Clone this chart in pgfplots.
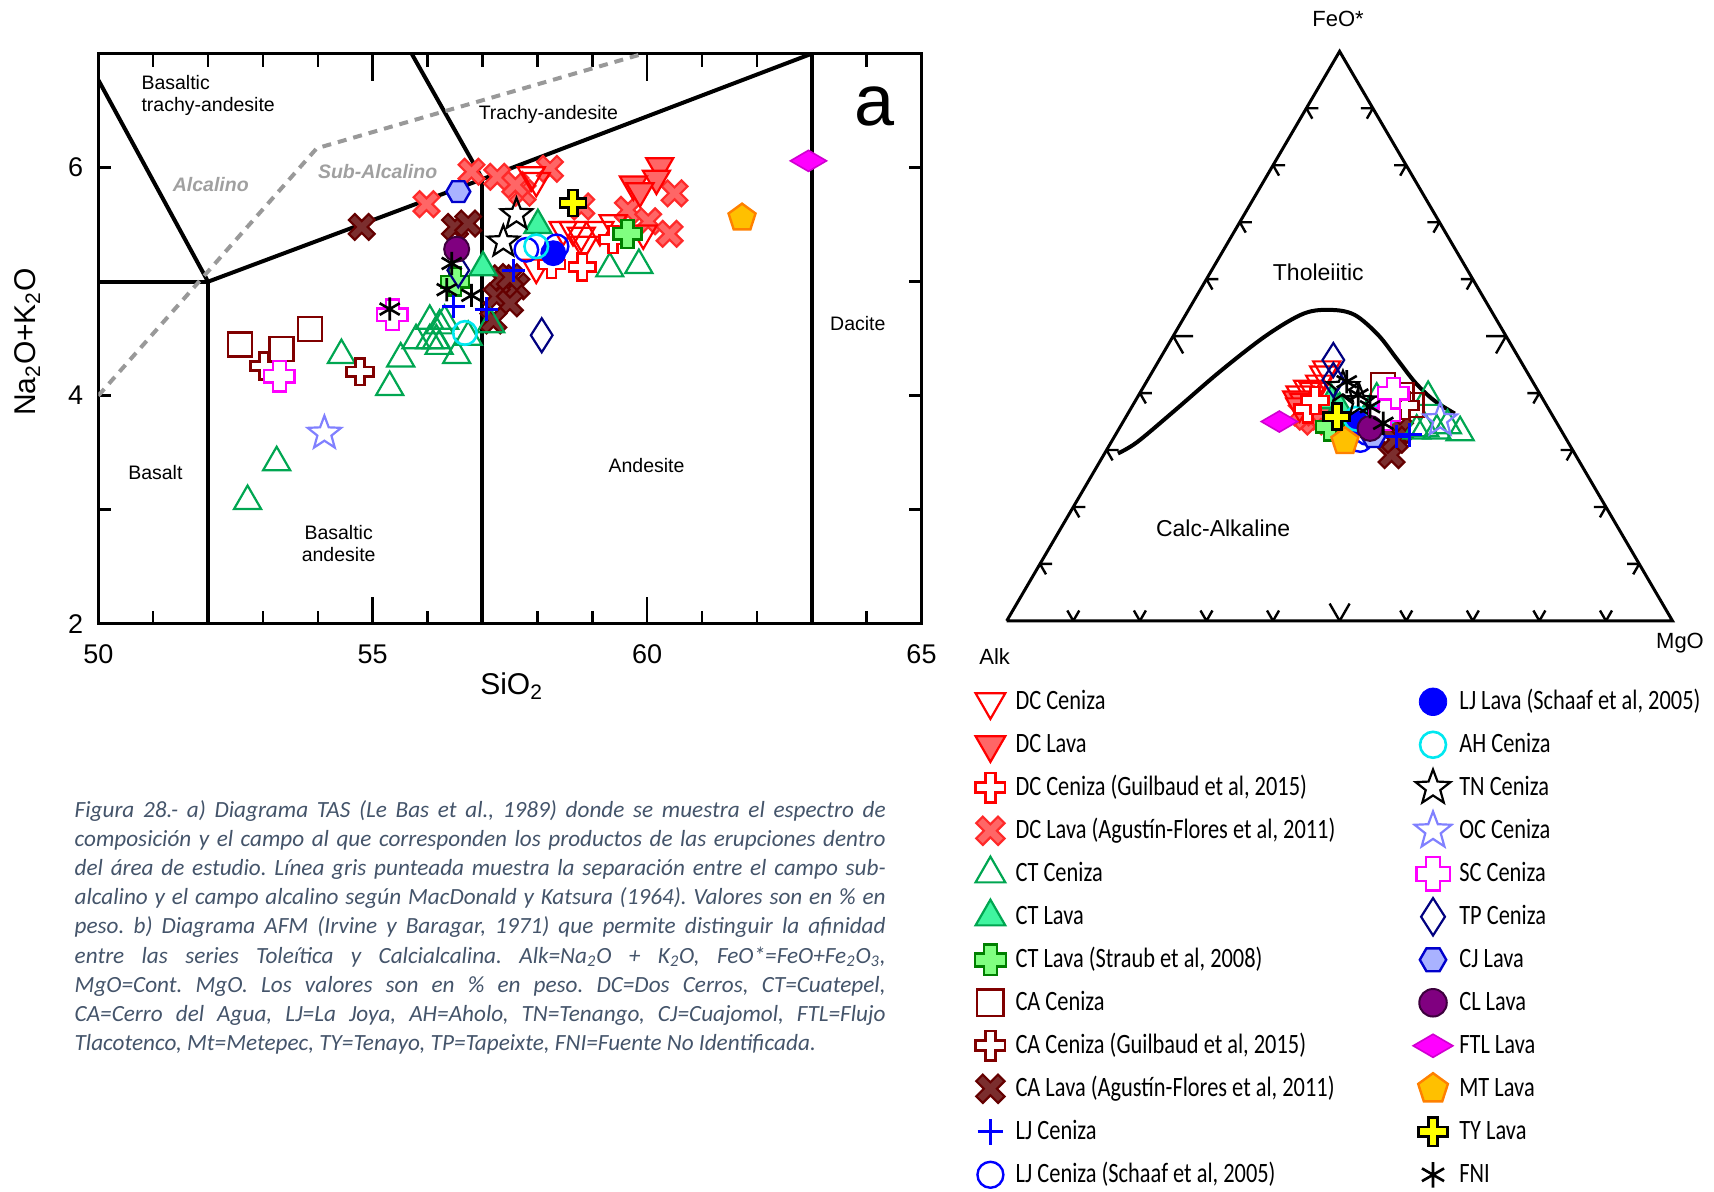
\documentclass[border=0pt]{standalone}
\usepackage{fontspec}
\setmainfont{Liberation Sans}
\newfontfamily\legfont[FakeStretch=0.8]{Carlito}
\newfontfamily\capfont{Carlito}
\usepackage{pgfplots}
\pgfplotsset{compat=1.18}
\usetikzlibrary{plotmarks}

\definecolor{dcred}{HTML}{FF0000}
\definecolor{dcfill}{HTML}{FF6666}
\definecolor{dcxdraw}{HTML}{FF2A2A}
\definecolor{ctgreen}{HTML}{00A651}
\definecolor{ctfill}{HTML}{40F5A0}
\definecolor{stfill}{HTML}{80FF80}
\definecolor{stdraw}{HTML}{008000}
\definecolor{cared}{HTML}{800000}
\definecolor{cafill}{HTML}{7B2E2E}
\definecolor{cadraw}{HTML}{650000}
\definecolor{ljblue}{HTML}{0000FF}
\definecolor{ahcyan}{HTML}{00E8F0}
\definecolor{oclilac}{HTML}{8080FF}
\definecolor{scmag}{HTML}{FF00FF}
\definecolor{tpnavy}{HTML}{000080}
\definecolor{cjfill}{HTML}{A9B2FF}
\definecolor{cjdraw}{HTML}{0000CC}
\definecolor{clfill}{HTML}{800080}
\definecolor{cldraw}{HTML}{3D003D}
\definecolor{ftlfill}{HTML}{FF00FF}
\definecolor{ftldraw}{HTML}{D000D0}
\definecolor{mtfill}{HTML}{FFC000}
\definecolor{mtdraw}{HTML}{FF8000}
\definecolor{tyfill}{HTML}{FFFF00}
\definecolor{captxt}{HTML}{44546A}
\definecolor{dashgray}{HTML}{999999}
\definecolor{labgray}{HTML}{A0A0A0}

\newcommand\crosspath[1]{%
 \pgfpathmoveto{\pgfqpoint{#1\pgfplotmarksize}{\pgfplotmarksize}}%
 \pgfpathlineto{\pgfqpoint{#1\pgfplotmarksize}{#1\pgfplotmarksize}}%
 \pgfpathlineto{\pgfqpoint{\pgfplotmarksize}{#1\pgfplotmarksize}}%
 \pgfpathlineto{\pgfqpoint{\pgfplotmarksize}{-#1\pgfplotmarksize}}%
 \pgfpathlineto{\pgfqpoint{#1\pgfplotmarksize}{-#1\pgfplotmarksize}}%
 \pgfpathlineto{\pgfqpoint{#1\pgfplotmarksize}{-\pgfplotmarksize}}%
 \pgfpathlineto{\pgfqpoint{-#1\pgfplotmarksize}{-\pgfplotmarksize}}%
 \pgfpathlineto{\pgfqpoint{-#1\pgfplotmarksize}{-#1\pgfplotmarksize}}%
 \pgfpathlineto{\pgfqpoint{-\pgfplotmarksize}{-#1\pgfplotmarksize}}%
 \pgfpathlineto{\pgfqpoint{-\pgfplotmarksize}{#1\pgfplotmarksize}}%
 \pgfpathlineto{\pgfqpoint{-#1\pgfplotmarksize}{#1\pgfplotmarksize}}%
 \pgfpathlineto{\pgfqpoint{-#1\pgfplotmarksize}{\pgfplotmarksize}}%
 \pgfpathclose}
\pgfdeclareplotmark{gcross}{\crosspath{0.34}\pgfusepathqfillstroke}
\pgfdeclareplotmark{xcross}{\pgftransformrotate{45}\crosspath{0.30}\pgfusepathqfillstroke}
\pgfdeclareplotmark{clover}{\pgfsetcornersarced{\pgfqpoint{0.35\pgfplotmarksize}{0.35\pgfplotmarksize}}\crosspath{0.42}\pgfusepathqfillstroke\pgfsetcornersarced{\pgfpointorigin}}
\pgfdeclareplotmark{ostar}{%
 \pgfpathmoveto{\pgfqpoint{0pt}{\pgfplotmarksize}}%
 \pgfpathlineto{\pgfqpoint{-0.247\pgfplotmarksize}{0.340\pgfplotmarksize}}%
 \pgfpathlineto{\pgfqpoint{-0.951\pgfplotmarksize}{0.309\pgfplotmarksize}}%
 \pgfpathlineto{\pgfqpoint{-0.399\pgfplotmarksize}{-0.130\pgfplotmarksize}}%
 \pgfpathlineto{\pgfqpoint{-0.588\pgfplotmarksize}{-0.809\pgfplotmarksize}}%
 \pgfpathlineto{\pgfqpoint{0pt}{-0.42\pgfplotmarksize}}%
 \pgfpathlineto{\pgfqpoint{0.588\pgfplotmarksize}{-0.809\pgfplotmarksize}}%
 \pgfpathlineto{\pgfqpoint{0.399\pgfplotmarksize}{-0.130\pgfplotmarksize}}%
 \pgfpathlineto{\pgfqpoint{0.951\pgfplotmarksize}{0.309\pgfplotmarksize}}%
 \pgfpathlineto{\pgfqpoint{0.247\pgfplotmarksize}{0.340\pgfplotmarksize}}%
 \pgfpathclose\pgfusepathqstroke}
\pgfdeclareplotmark{hexa}{%
 \pgfpathmoveto{\pgfqpoint{\pgfplotmarksize}{0pt}}%
 \pgfpathlineto{\pgfqpoint{0.5\pgfplotmarksize}{0.866\pgfplotmarksize}}%
 \pgfpathlineto{\pgfqpoint{-0.5\pgfplotmarksize}{0.866\pgfplotmarksize}}%
 \pgfpathlineto{\pgfqpoint{-\pgfplotmarksize}{0pt}}%
 \pgfpathlineto{\pgfqpoint{-0.5\pgfplotmarksize}{-0.866\pgfplotmarksize}}%
 \pgfpathlineto{\pgfqpoint{0.5\pgfplotmarksize}{-0.866\pgfplotmarksize}}%
 \pgfpathclose\pgfusepathqfillstroke}

\pgfplotsset{
 dcc/.style={only marks, mark=triangle, mark size=7.8pt, mark options={rotate=180, draw=dcred, line width=1.1pt}},
 dcl/.style={only marks, mark=triangle*, mark size=7.8pt, mark options={rotate=180, draw=dcred, fill=dcfill, line width=1.1pt}},
 dcg/.style={only marks, mark=gcross, mark size=6.7pt, mark options={draw=dcred, fill=white, line width=1.3pt}},
 dca/.style={only marks, mark=xcross, mark size=7pt, mark options={draw=dcxdraw, fill=dcfill, line width=1.1pt}},
 ctc/.style={only marks, mark=triangle, mark size=7.8pt, mark options={draw=ctgreen, line width=1.1pt}},
 ctl/.style={only marks, mark=triangle*, mark size=7.8pt, mark options={draw=ctgreen, fill=ctfill, line width=1.1pt}},
 cts/.style={only marks, mark=clover, mark size=7pt, mark options={draw=stdraw, fill=stfill, line width=1.3pt}},
 cac/.style={only marks, mark=square, mark size=6pt, mark options={draw=cared, line width=1.2pt}},
 cag/.style={only marks, mark=gcross, mark size=6.7pt, mark options={draw=cared, fill=white, line width=1.3pt}},
 caa/.style={only marks, mark=xcross, mark size=7pt, mark options={draw=cadraw, fill=cafill, line width=1.1pt}},
 ljc/.style={only marks, mark=+, mark size=5.8pt, mark options={draw=ljblue, line width=1.5pt}},
 ljs/.style={only marks, mark=o, mark size=5.9pt, mark options={draw=ljblue, line width=1.2pt}},
 ljl/.style={only marks, mark=*, mark size=6.25pt, mark options={draw=ljblue, fill=ljblue}},
 ahc/.style={only marks, mark=o, mark size=5.9pt, mark options={draw=ahcyan, line width=1.3pt}},
 tnc/.style={only marks, mark=ostar, mark size=8.3pt, mark options={draw=black, line width=1.1pt}},
 occ/.style={only marks, mark=ostar, mark size=8.8pt, mark options={draw=oclilac, line width=1.1pt}},
 scc/.style={only marks, mark=clover, mark size=7.6pt, mark options={draw=scmag, fill=white, line width=1.2pt}},
 tpc/.style={only marks, mark=diamond, mark size=8.5pt, mark options={draw=tpnavy, line width=1.1pt, xscale=0.85}},
 cjl/.style={only marks, mark=hexa, mark size=6pt, mark options={draw=cjdraw, fill=cjfill, line width=1.2pt}},
 cll/.style={only marks, mark=*, mark size=6.25pt, mark options={draw=cldraw, fill=clfill, line width=1pt}},
 ftl/.style={only marks, mark=diamond*, mark size=5.25pt, mark options={draw=ftldraw, fill=ftlfill, line width=0.8pt, xscale=2.29}},
 mtl/.style={only marks, mark=pentagon*, mark size=7.1pt, mark options={draw=mtdraw, fill=mtfill, line width=1.2pt}},
 tyl/.style={only marks, mark=gcross, mark size=6.5pt, mark options={draw=black, fill=tyfill, line width=1.4pt}},
 fni/.style={only marks, mark=asterisk, mark size=5.8pt, mark options={draw=black, line width=1.3pt}},
 fld/.style={black, line width=2pt, no marks},
 legimg/.style={legend image code/.code={\pgfpathrectangle{\pgfqpoint{-6pt}{-6pt}}{\pgfqpoint{12pt}{12pt}}\pgfusepath{discard}\pgfinterruptboundingbox\draw[##1, every mark/.append style={scale=1.1}] plot coordinates {(0pt,0pt)};\endpgfinterruptboundingbox}},
}

\newcommand\rfont{\fontsize{9.75}{11}\selectfont}

\begin{document}
\begin{tikzpicture}
\useasboundingbox (0,0) rectangle (857pt,596pt);

% ---------------- TAS diagram ----------------
\begin{axis}[at={(49.15pt,284.15pt)}, anchor=south west, scale only axis,
 width=411.6pt, height=285pt, xmin=50, xmax=65, ymin=2, ymax=7,
 xtick={50,55,60,65}, minor x tick num=4,
 ytick={2,3,4,5,6,7}, yticklabels={2,,4,,6,},
 tick align=inside, xtick pos=both, ytick pos=both,
 major tick length=6.5pt, minor tick length=6.5pt,
 extra x ticks={55,60}, extra x tick labels={,},
 extra x tick style={major tick length=13.5pt},
 axis line style={line width=1.5pt},
 every tick/.style={black, line width=1.3pt},
 tick label style={font=\fontsize{13.5}{15}\selectfont},
 /pgf/number format/assume math mode=true,
 xticklabel style={yshift=-7pt}, yticklabel style={xshift=-4pt},
 clip=true]
\addplot[fld] coordinates {(50,5) (52,5)};
\addplot[fld] coordinates {(52,2) (52,5)};
\addplot[fld] coordinates {(52,5) (50,6.77)};
\addplot[fld] coordinates {(52,5) (57,5.9)};
\addplot[fld] coordinates {(57,2) (57,5.9)};
\addplot[fld] coordinates {(57,5.9) (55.71,7)};
\addplot[fld] coordinates {(57,5.9) (63,7)};
\addplot[fld] coordinates {(63,2) (63,7)};
\addplot[dashgray, line width=2pt, dash pattern=on 4.5pt off 3.5pt, no marks] coordinates {(50,4) (53.98,6.17) (59.93,7.0)};

\node[font=\rfont, anchor=west, align=left, inner sep=0pt] at (axis cs:50.78,6.63) {Basaltic\\trachy-andesite};
\node[font=\rfont\bfseries\itshape, text=labgray] at (axis cs:52.05,5.85) {Alcalino};
\node[font=\rfont\bfseries\itshape, text=labgray] at (axis cs:55.09,5.966) {Sub-Alcalino};
\node[font=\rfont] at (axis cs:58.2,6.464) {Trachy-andesite};
\node[font=\rfont] at (axis cs:63.84,4.63) {Dacite};
\node[font=\rfont] at (axis cs:51.04,3.33) {Basalt};
\node[font=\rfont] at (axis cs:59.99,3.386) {Andesite};
\node[font=\rfont, align=center] at (axis cs:54.38,2.706) {Basaltic\\andesite};
\node[font=\fontsize{36}{36}\selectfont] at (axis cs:64.14,6.54) {a};

\addplot[dca] coordinates {(56.80,5.965) (57.27,5.92) (58.23,5.99) (55.98,5.68) (57.73,5.78) (57.60,5.85) (58.80,5.66) (59.65,5.63) (60.50,5.775) (60.02,5.53) (60.41,5.42)};
\addplot[caa] coordinates {(54.80,5.48) (56.50,5.48) (56.74,5.51) (57.35,5.03) (57.62,4.96) (57.26,4.87) (57.50,4.81) (57.20,4.66) (57.50,5.04)};
\addplot[ctc] coordinates {(53.25,3.415) (52.72,3.075) (54.43,4.355) (55.31,4.075) (55.51,4.325) (55.79,4.485) (56.22,4.615) (56.21,4.435) (56.53,4.355) (56.31,4.655) (56.74,4.515) (56.04,4.485) (56.04,4.655) (56.16,4.485) (57.15,4.625) (59.32,5.115) (59.85,5.145)};
\addplot[ctl] coordinates {(57.01,5.125) (58.01,5.495)};
\addplot[dcc] coordinates {(57.98,5.885) (57.89,5.935) (58.65,5.455) (58.80,5.405) (59.14,5.455) (59.38,5.515) (57.98,5.125) (58.47,5.455) (58.84,5.325) (59.93,5.425)};
\addplot[dcl] coordinates {(60.23,6.015) (60.17,5.905) (59.75,5.855) (59.87,5.795)};
\addplot[dcg] coordinates {(58.26,5.15) (58.82,5.13) (59.38,5.37)};
\addplot[cac] coordinates {(52.58,4.45) (53.34,4.41) (53.86,4.585)};
\addplot[cag] coordinates {(53.02,4.26) (54.77,4.21)};
\addplot[cts] coordinates {(59.64,5.42) (56.50,5.00)};
\addplot[ljc] coordinates {(57.56,5.10) (56.47,4.78) (57.07,4.76)};
\addplot[ljs] coordinates {(57.80,5.28) (58.35,5.31)};
\addplot[ljl] coordinates {(58.29,5.25)};
\addplot[ahc] coordinates {(57.98,5.31) (56.68,4.55)};
\addplot[tnc] coordinates {(57.62,5.59) (57.38,5.35)};
\addplot[occ] coordinates {(54.12,3.67)};
\addplot[scc] coordinates {(53.30,4.17) (55.36,4.71)};
\addplot[tpc] coordinates {(58.08,4.53) (56.56,5.10)};
\addplot[cjl] coordinates {(56.56,5.79)};
\addplot[cll] coordinates {(56.53,5.285)};
\addplot[ftl] coordinates {(62.94,6.06)};
\addplot[mtl] coordinates {(61.73,5.56)};
\addplot[tyl] coordinates {(58.65,5.69)};
\addplot[fni] coordinates {(55.31,4.76) (56.44,5.16) (56.35,4.93) (56.80,4.88)};
\end{axis}

% ---------------- AFM ternary ----------------
\begin{axis}[at={(503.35pt,285.55pt)}, anchor=south west, scale only axis,
 width=332.9pt, height=284.75pt, xmin=0, xmax=1, ymin=0, ymax=1,
 hide axis, clip=false]
\addplot[black, line width=1.5pt, no marks] coordinates {(0,0) (1,0) (0.5,1) (0,0)};
\addplot[black, line width=2pt, no marks, smooth, tension=0.55] coordinates {(0.167,0.294) (0.196,0.314) (0.252,0.369) (0.3215,0.439) (0.391,0.502) (0.447,0.540) (0.4885,0.546) (0.523,0.537) (0.558,0.502) (0.586,0.46) (0.614,0.418) (0.642,0.387) (0.673,0.364)};
\addplot[dca] coordinates {(0.4506,0.3586) (0.462,0.35) (0.472,0.365) (0.443,0.366)};
\addplot[caa] coordinates {(0.578,0.291) (0.5907,0.335) (0.583,0.318)};
\addplot[ctc] coordinates {(0.633,0.393) (0.6158,0.334) (0.646,0.334) (0.681,0.331) (0.5557,0.39) (0.662,0.343) (0.628,0.338)};
\addplot[ctl] coordinates {(0.488,0.387) (0.50,0.373)};
\addplot[dcc] coordinates {(0.4806,0.442) (0.476,0.433) (0.4405,0.398) (0.4605,0.404) (0.47,0.417) (0.452,0.408)};
\addplot[dcl] coordinates {(0.4356,0.389) (0.446,0.385) (0.44,0.377)};
\addplot[dcg] coordinates {(0.452,0.372) (0.463,0.387)};
\addplot[cac] coordinates {(0.5656,0.414) (0.593,0.3967) (0.608,0.379)};
\addplot[cag] coordinates {(0.5807,0.388) (0.598,0.378)};
\addplot[cts] coordinates {(0.4856,0.341)};
\addplot[ljc] coordinates {(0.5858,0.3235) (0.6057,0.3264)};
\addplot[ljs] coordinates {(0.531,0.3176) (0.541,0.33)};
\addplot[ljl] coordinates {(0.528,0.347)};
\addplot[ahc] coordinates {(0.525,0.355) (0.571,0.367)};
\addplot[tnc] coordinates {(0.505,0.41) (0.53,0.385)};
\addplot[occ] coordinates {(0.651,0.3528)};
\addplot[scc] coordinates {(0.5807,0.3997) (0.568,0.362)};
\addplot[tpc] coordinates {(0.4906,0.458) (0.4906,0.423)};
\addplot[cjl] coordinates {(0.5506,0.3235)};
\addplot[cll] coordinates {(0.5457,0.338)};
\addplot[ftl] coordinates {(0.4095,0.350)};
\addplot[mtl] coordinates {(0.508,0.315)};
\addplot[tyl] coordinates {(0.4956,0.3586)};
\addplot[fni] coordinates {(0.5107,0.420) (0.528,0.3967) (0.5457,0.376) (0.5656,0.347)};
\end{axis}

\begin{scope}[shift={(503.35pt,285.55pt)}, x=332.9pt, y=284.75pt, line width=1.2pt]
\foreach \k in {1,...,9}{
 \pgfmathsetmacro\L{ifthenelse(\k==5,10,6)}
 \draw (0.05*\k,0.1*\k) -- ++(0:\L pt) (0.05*\k,0.1*\k) -- ++(-60:\L pt);
 \draw (0.1*\k,0) -- ++(60:\L pt) (0.1*\k,0) -- ++(120:\L pt);
 \draw (1-0.05*\k,0.1*\k) -- ++(180:\L pt) (1-0.05*\k,0.1*\k) -- ++(240:\L pt);
}
\end{scope}

\node[font=\fontsize{11}{12}\selectfont] at (669pt,586.7pt) {FeO*};
\node[font=\fontsize{11}{12}\selectfont] at (497.35pt,267.5pt) {Alk};
\node[font=\fontsize{11}{12}\selectfont] at (840pt,274.65pt) {MgO};
\node[font=\fontsize{11.5}{12}\selectfont] at (659.15pt,459.9pt) {Tholeiitic};
\node[font=\fontsize{11.5}{12}\selectfont] at (611.6pt,332pt) {Calc-Alkaline};

% axis titles
\node[font=\fontsize{15}{16}\selectfont] at (255.8pt,252.75pt) {SiO\textsubscript{2}};
\node[font=\fontsize{15}{16}\selectfont, rotate=90] at (13.7pt,425pt) {Na\textsubscript{2}O+K\textsubscript{2}O};

% ---------------- legends ----------------
\begin{axis}[at={(0pt,0pt)}, anchor=south west, scale only axis, width=857pt, height=596pt,
 xmin=0, xmax=1, ymin=0, ymax=1, hide axis, legimg,
 legend cell align=left,
 legend style={at={(0.57083,0.42257)}, anchor=north west, draw=none, fill=none, inner sep=0pt, outer sep=0pt,
   column sep=6.55pt, row sep=8pt,
   nodes={inner sep=0pt, text height=10.5pt, text depth=3pt, font=\legfont\fontsize{14}{16}\selectfont}}]
\addlegendimage{dcc}\addlegendentry{DC Ceniza}
\addlegendimage{dcl}\addlegendentry{DC Lava}
\addlegendimage{dcg}\addlegendentry{DC Ceniza (Guilbaud et al, 2015)}
\addlegendimage{dca}\addlegendentry{DC Lava (Agustín-Flores et al, 2011)}
\addlegendimage{ctc}\addlegendentry{CT Ceniza}
\addlegendimage{ctl}\addlegendentry{CT Lava}
\addlegendimage{cts}\addlegendentry{CT Lava (Straub et al, 2008)}
\addlegendimage{cac}\addlegendentry{CA Ceniza}
\addlegendimage{cag}\addlegendentry{CA Ceniza (Guilbaud et al, 2015)}
\addlegendimage{caa}\addlegendentry{CA Lava (Agustín-Flores et al, 2011)}
\addlegendimage{ljc}\addlegendentry{LJ Ceniza}
\addlegendimage{ljs}\addlegendentry{LJ Ceniza (Schaaf et al, 2005)}
\end{axis}
\begin{axis}[at={(0pt,0pt)}, anchor=south west, scale only axis, width=857pt, height=596pt,
 xmin=0, xmax=1, ymin=0, ymax=1, hide axis, legimg,
 legend cell align=left,
 legend style={at={(0.82905,0.42257)}, anchor=north west, draw=none, fill=none, inner sep=0pt, outer sep=0pt,
   column sep=7.15pt, row sep=8pt,
   nodes={inner sep=0pt, text height=10.5pt, text depth=3pt, font=\legfont\fontsize{14}{16}\selectfont}}]
\addlegendimage{ljl}\addlegendentry{LJ Lava (Schaaf et al, 2005)}
\addlegendimage{ahc}\addlegendentry{AH Ceniza}
\addlegendimage{tnc}\addlegendentry{TN Ceniza}
\addlegendimage{occ}\addlegendentry{OC Ceniza}
\addlegendimage{scc}\addlegendentry{SC Ceniza}
\addlegendimage{tpc}\addlegendentry{TP Ceniza}
\addlegendimage{cjl}\addlegendentry{CJ Lava}
\addlegendimage{cll}\addlegendentry{CL Lava}
\addlegendimage{ftl}\addlegendentry{FTL Lava}
\addlegendimage{mtl}\addlegendentry{MT Lava}
\addlegendimage{tyl}\addlegendentry{TY Lava}
\addlegendimage{fni}\addlegendentry{FNI}
\end{axis}

% ---------------- caption ----------------
\node[anchor=base west, inner sep=0pt, text=captxt] at (37.15pt,187.4pt) {\parbox[t]{405.5pt}{\frenchspacing\capfont\itshape\fontsize{11.6}{14.6}\selectfont
\makebox[\linewidth][s]{Figura 28.- a) Diagrama TAS (Le Bas et al., 1989) donde se muestra el espectro de}\\
\makebox[\linewidth][s]{composición y el campo al que corresponden los productos de las erupciones dentro}\\
\makebox[\linewidth][s]{del área de estudio. Línea gris punteada muestra la separación entre el campo sub-}\\
\makebox[\linewidth][s]{alcalino y el campo alcalino según MacDonald y Katsura (1964). Valores son en \% en}\\
\makebox[\linewidth][s]{peso. b) Diagrama AFM (Irvine y Baragar, 1971) que permite distinguir la afinidad}\\
\makebox[\linewidth][s]{entre las series Toleítica y Calcialcalina. Alk=Na\textsubscript{2}O + K\textsubscript{2}O, FeO*=FeO+Fe\textsubscript{2}O\textsubscript{3},}\\
\makebox[\linewidth][s]{MgO=Cont. MgO. Los valores son en \% en peso. DC=Dos Cerros, CT=Cuatepel,}\\
\makebox[\linewidth][s]{CA=Cerro del Agua, LJ=La Joya, AH=Aholo, TN=Tenango, CJ=Cuajomol, FTL=Flujo}\\
Tlacotenco, Mt=Metepec, TY=Tenayo, TP=Tapeixte, FNI=Fuente No Identificada.}};
\end{tikzpicture}
\end{document}
